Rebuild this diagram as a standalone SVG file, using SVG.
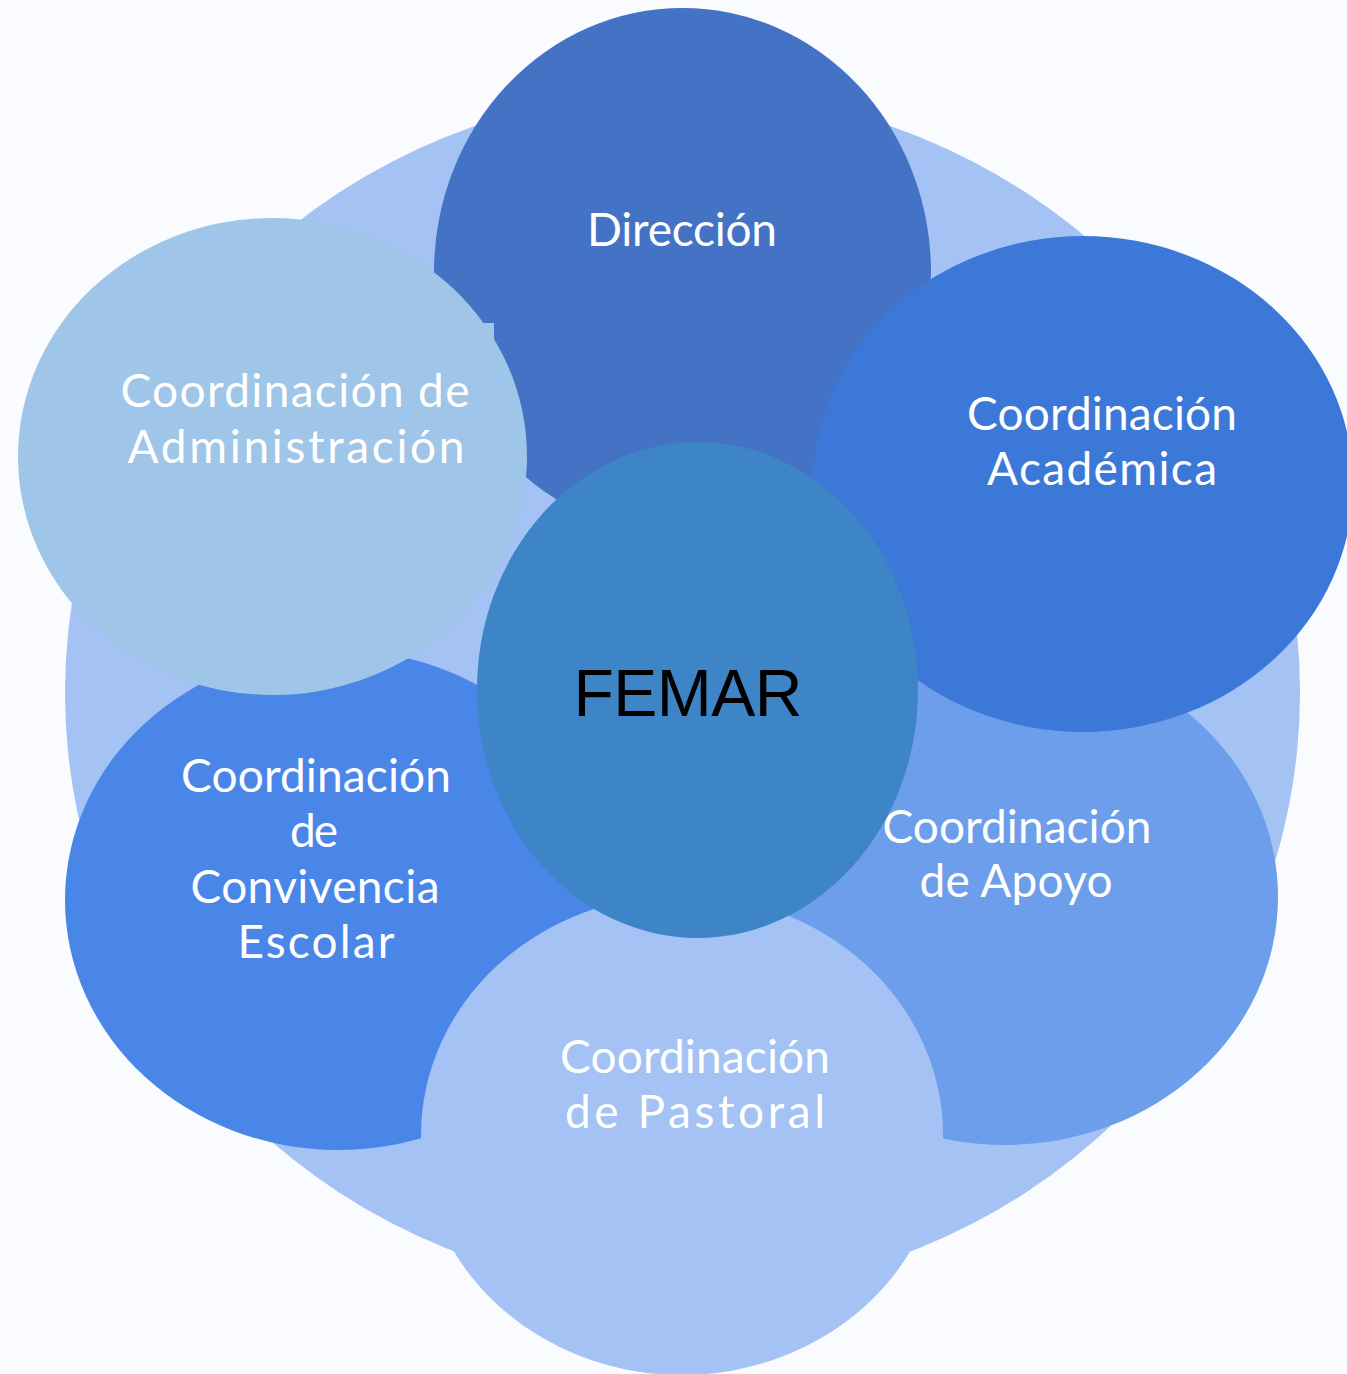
<svg xmlns="http://www.w3.org/2000/svg" width="1347" height="1374" viewBox="0 0 1347 1374">
<style>
.lbl{font-family:Lato,"Noto Sans","DejaVu Sans",sans-serif;font-size:46px;fill:#ffffff;text-anchor:middle}
.core{font-family:"Liberation Sans",Arial,sans-serif;font-size:66px;fill:#000000;text-anchor:middle}
</style>
<rect x="0" y="0" width="1347" height="1374" fill="#f9fbfe"/>
<g id="ring">
<ellipse cx="682.5" cy="692.5" rx="617.5" ry="601.6" fill="#a4c2f4"/>
</g>
<g id="connectors"></g>
<g id="direccion">
<ellipse cx="682.5" cy="272" rx="248.5" ry="264" fill="#4472c4"/>
<text class="lbl" x="682" y="246" textLength="190">Dirección</text>
</g>
<g id="apoyo">
<ellipse cx="1005" cy="897" rx="273" ry="248" fill="#6d9eeb"/>
<text class="lbl" x="1017" y="843" textLength="269">Coordinación</text>
<text class="lbl" x="1016" y="897" textLength="193">de Apoyo</text>
</g>
<g id="academica">
<ellipse cx="1083" cy="484" rx="270" ry="248" fill="#3c78d8"/>
<text class="lbl" x="1102" y="430" textLength="270">Coordinación</text>
<text class="lbl" x="1102" y="485" textLength="230">Académica</text>
</g>
<g id="convivencia">
<ellipse cx="338" cy="900" rx="273" ry="250" fill="#4a86e8"/>
<text class="lbl" x="316" y="792" textLength="270">Coordinación</text>
<text class="lbl" x="314" y="847" textLength="48">de</text>
<text class="lbl" x="315" y="903" textLength="249">Convivencia</text>
<text class="lbl" x="316" y="958" textLength="157">Escolar</text>
</g>
<g id="administracion">
<ellipse cx="272.5" cy="456.5" rx="254.5" ry="238.5" fill="#9fc5e8"/>
<rect x="483" y="323" width="11" height="16" fill="#9fc5e8"/>
<text class="lbl" x="295" y="407" textLength="349">Coordinación de</text>
<text class="lbl" x="296" y="463" textLength="337">Administración</text>
</g>
<g id="pastoral">
<ellipse cx="682" cy="1135" rx="261" ry="240" fill="#a4c2f4"/>
<text class="lbl" x="695" y="1073" textLength="270">Coordinación</text>
<text class="lbl" x="695" y="1128" textLength="260">de Pastoral</text>
</g>
<g id="femar">
<ellipse cx="697.5" cy="690" rx="220.5" ry="248" fill="#3d85c6"/>
<text class="core" x="688" y="716" textLength="229">FEMAR</text>
</g>
</svg>
